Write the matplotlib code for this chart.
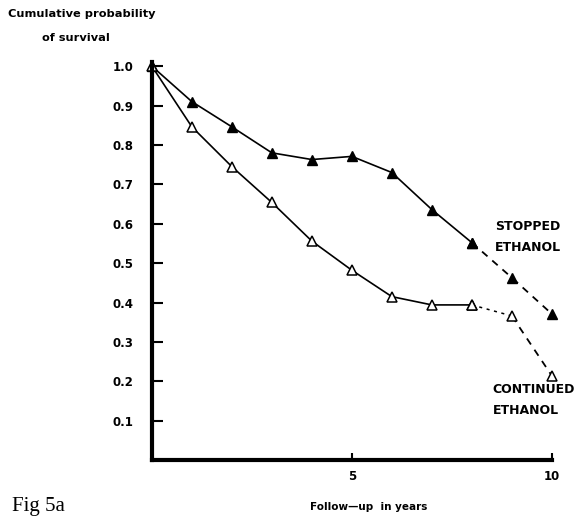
import matplotlib
matplotlib.use('Agg')
import matplotlib.pyplot as plt

plt.rcParams['font.family'] = ['DejaVu Sans']

# values
years = [0, 1, 2, 3, 4, 5, 6, 7, 8, 9, 10]
stopped = [1.0, 0.91, 0.846, 0.78, 0.763, 0.771, 0.73, 0.636, 0.552, 0.463, 0.371]
continued = [1.0, 0.846, 0.745, 0.654, 0.556, 0.482, 0.415, 0.394, 0.394, 0.366, 0.214]
y_ticks = [0.1, 0.2, 0.3, 0.4, 0.5, 0.6, 0.7, 0.8, 0.9, 1.0]
x_ticks = [5, 10]

fig = plt.figure(figsize=(5.84, 5.17), dpi=100)
ax = fig.add_axes([0.260, 0.110, 0.685, 0.762])

# stopped ethanol: solid up to year 8, dashed after
ax.plot(years[:9], stopped[:9], color='black', lw=1.2, marker='^', ms=6.5,
        mfc='black', mec='black', clip_on=False)
ax.plot(years[8:], stopped[8:], color='black', lw=1.3, ls=(0, (4, 3.5)),
        marker='^', ms=6.5, mfc='black', mec='black', clip_on=False)

# continued ethanol: solid up to year 8, dotted then dashed
ax.plot(years[:9], continued[:9], color='black', lw=1.2, marker='^', ms=6.5,
        mfc='white', mec='black', mew=1.1, clip_on=False)
ax.plot(years[8:10], continued[8:10], color='black', lw=1.1, ls=(0, (2, 3)))
ax.plot(years[9:], continued[9:], color='black', lw=1.3, ls=(0, (4, 3.5)))
ax.plot(years[8:], continued[8:], ls='none', marker='^', ms=6.5,
        mfc='white', mec='black', mew=1.1, clip_on=False)

ax.set_xlim(0, 10)
ax.set_ylim(0, 1.0)
ax.spines['top'].set_visible(False)
ax.spines['right'].set_visible(False)
ax.spines['left'].set_linewidth(3)
ax.spines['bottom'].set_linewidth(3)
ax.spines['left'].set_bounds(0, 1.01)

ax.set_yticks(y_ticks)
ax.set_yticklabels(['%.1f' % v for v in y_ticks], fontweight='bold', fontsize=8.5)
ax.set_xticks(x_ticks)
ax.set_xticklabels([str(v) for v in x_ticks], fontweight='bold', fontsize=8.5)
ax.tick_params(axis='y', direction='in', length=8, width=1.5, pad=13)
ax.tick_params(axis='x', direction='in', length=5, width=1.5, pad=7)

ax.text(8.57, 0.567, 'STOPPED\nETHANOL', fontsize=9, fontweight='bold',
        va='center', ha='left', linespacing=1.75)
ax.text(8.52, 0.153, 'CONTINUED\nETHANOL', fontsize=9, fontweight='bold',
        va='center', ha='left', linespacing=1.75)

fig.text(8 / 584, 1 - 14 / 517, 'Cumulative probability', fontsize=8.2, fontweight='bold',
         va='center', ha='left')
fig.text(42 / 584, 1 - 38 / 517, 'of survival', fontsize=8.2, fontweight='bold',
         va='center', ha='left')
fig.text(369 / 584, 1 - 507 / 517, 'Follow\u2014up  in years', fontsize=7.5, fontweight='bold',
         va='center', ha='center')
fig.text(12 / 584, 1 - 506 / 517, 'Fig 5a', fontsize=15, family='Liberation Serif',
         va='center', ha='left')

fig.savefig('out.png', dpi=100)
